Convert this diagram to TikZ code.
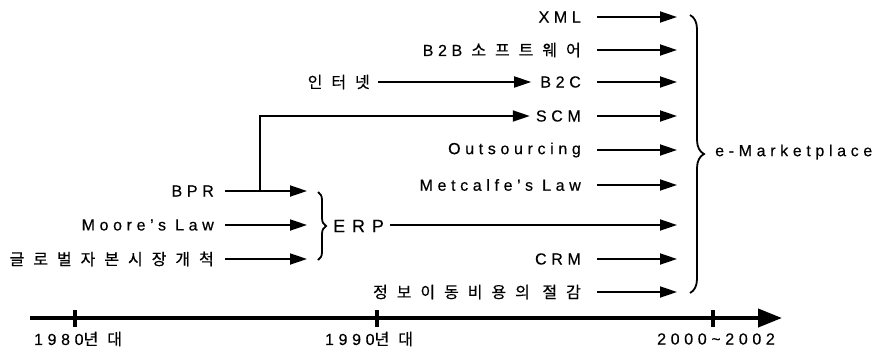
\documentclass[tikz,border=0pt]{standalone}
\usepackage{fontspec}
\setmainfont[LetterSpace=29,FakeBold=0.4]{Liberation Sans}
\newfontfamily\krfont[LetterSpace=56,FakeBold=0.4]{Noto Sans CJK KR}
\newfontfamily\widefont[LetterSpace=38,FakeBold=0.4]{Liberation Sans}
\newcommand{\kr}[1]{{\krfont #1}}
\usetikzlibrary{arrows.meta,decorations.pathreplacing}
\tikzset{lbl/.style={font=\fontsize{16}{18}\selectfont,inner sep=0pt},
  arr/.style={draw,line width=1.8pt,-{Triangle[length=17pt,width=11pt]}},
  brc/.style={draw,line width=1.8pt,decorate,decoration={brace,amplitude=#1}}}

\begin{document}
\begin{tikzpicture}[x=1pt,y=-1pt]
  \useasboundingbox (0,0) rectangle (885,351);

  % items feeding e-Marketplace
  \foreach \n/\y/\t in {xml/17/XML, b2b/50/{B2B \kr{소프트웨어}}, b2c/82/B2C,
      scm/116/SCM, out/150/Outsourcing, met/185/{Metcalfe’s Law},
      crm/259/CRM, cost/292/{\kr{정보이동비용의 절감}}} {
    \node[lbl,anchor=east] (\n) at (581,\y) {\t};
    \coordinate (\n-s) at (597,\y);
    \coordinate (\n-e) at (677,\y);
    \draw[arr] (\n-s) -- (\n-e);
  }

  % items feeding ERP
  \foreach \n/\y/\t in {bpr/191/BPR, moore/225/{Moore’s Law},
      glob/259/{\kr{글로벌자본시장개척}}} {
    \node[lbl,anchor=east] (\n) at (214,\y) {\t};
    \coordinate (\n-s) at (225,\y);
    \coordinate (\n-e) at (307,\y);
    \draw[arr] (\n-s) -- (\n-e);
  }
  \draw[brc=8] (318,192) -- (318,260);

  \node[lbl,anchor=west,font=\widefont\fontsize{18}{20}\selectfont] (erp) at (333,226) {ERP};
  \coordinate (erp-e) at (677,225);
  \draw[arr,shorten <=6pt] (erp.east |- erp-e) -- (erp-e);

  % BPR also leads to SCM
  \coordinate (jn) at (260,191);
  \draw[arr,shorten >=6pt] (jn) |- (scm.west);

  \node[lbl,anchor=east] (inet) at (370,82) {\kr{인터넷}};
  \draw[arr,shorten <=8pt,shorten >=9pt] (inet.east) -- (b2c.west);

  \draw[brc=14] (690,15) -- (690,293);
  \node[lbl,anchor=west] (emk) at (715,152) {e-Marketplace};

  % time line
  \coordinate (t0) at (30,318);
  \coordinate (t1) at (782,318);
  \draw[line width=4pt,-{Triangle[length=24pt,width=18pt]}] (t0) -- (t1);
  \foreach \x in {75,377,713}
    \draw[line width=4pt] (\x,310) -- (\x,327);
  \node[lbl] (y80) at (78,339) {1980\kr{년대}};
  \node[lbl] (y90) at (369,339) {1990\kr{년대}};
  \node[lbl] (y00) at (716,339) {2000\textasciitilde2002};
\end{tikzpicture}
\end{document}
